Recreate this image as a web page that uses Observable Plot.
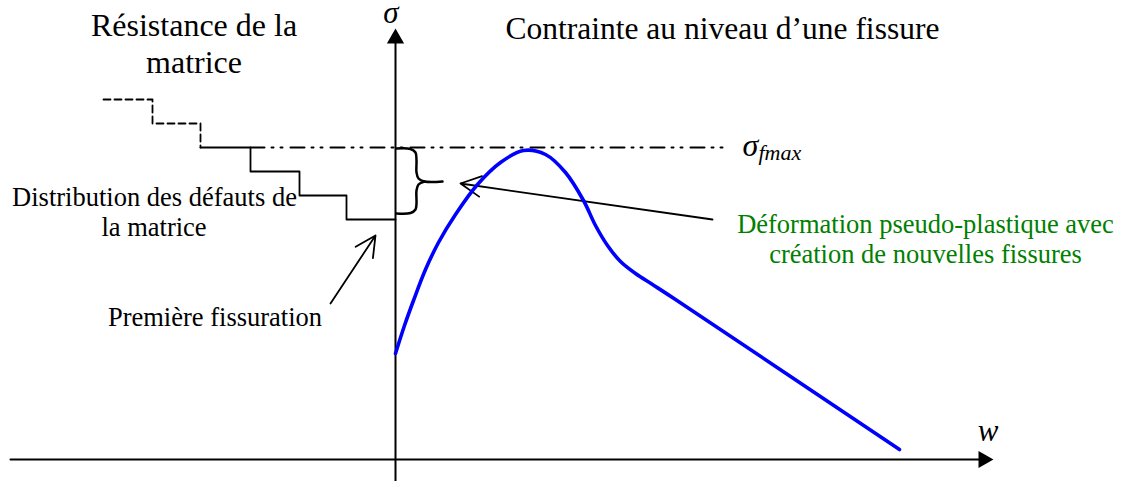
<!DOCTYPE html>
<html>
<head>
<meta charset="utf-8">
<script src="https://cdn.jsdelivr.net/npm/d3@7"></script>
<script src="https://cdn.jsdelivr.net/npm/@observablehq/plot@0.6"></script>
<style>
  html, body { margin: 0; padding: 0; background: #fff; }
  svg { display: block; }
</style>
</head>
<body>
<div id="chart"></div>
<script>
// Schematic: stress at a crack (σ) versus crack opening (w).
// Units: w to the right of the σ axis, σ above the w axis.

// Stress–opening response at the crack
const curveW     = [0, 9, 18, 30, 43, 60, 82, 105, 128, 150, 170, 188, 200, 212, 225, 240, 257, 280, 504];
const curveSigma = [106, 134, 159, 190, 217, 245, 275, 297, 309, 305, 287, 259, 234, 214, 198, 186, 175, 160, 10];

// Matrix strength levels (flaw distribution), drawn as steps
const flawW     = [-195, -145, -96, -49, 0];
const flawSigma = [312, 288, 264, 240, 240];
const upperW     = [-292, -243, -195];
const upperSigma = [360, 336, 312];

// Maximum stress level σ_fmax
const sigmaFmax = 312;
const fmaxFrom = -145, fmaxTo = 328;

// Brace marking the multiple-cracking range
const braceW     = [1, 15, 20, 21, 21, 23, 29, 47,   29, 23, 21, 21, 20, 15, 1];
const braceSigma = [311, 310.5, 307, 299, 287, 281, 278, 278,   278, 275, 269, 256, 250, 246.5, 246];
const braceSide  = ["a","a","a","a","a","a","a","a", "b","b","b","b","b","b","b"];

// Annotation arrows
const pointers = [
  {x1: 317, y1: 240, x2: 65, y2: 276},
  {x1: -65, y1: 156, x2: -20, y2: 224}
];

// Axis extent
const wMin = -385, wEnd = 585, sigmaMin = -22, sigmaEnd = 420;

// Text labels
const titleLabels = [
  {text: "Contrainte au niveau d’une fissure", x: 110, y: 421}
];
const matrixLabels = [
  {text: "Résistance de la", x: -201.5, y: 424},
  {text: "matrice", x: -201.5, y: 387}
];
const noteLabels = [
  {text: "Distribution des défauts de", x: -241, y: 254},
  {text: "la matrice", x: -241.5, y: 224},
  {text: "Première fissuration", x: -180.5, y: 134}
];
const greenLabels = [
  {text: "Déformation pseudo-plastique avec", x: 530, y: 227},
  {text: "création de nouvelles fissures", x: 530, y: 197}
];
const axisLabels = [
  {text: "σ", x: -4.5, y: 437},
  {text: "w", x: 592.5, y: 19}
];
const fmaxSymbol = {text: "σ", x: 347, y: 304};
const fmaxSub = {text: "fmax", x: 363, y: 300};

const curve = curveW.map((w, i) => ({w, s: curveSigma[i]}));
const flaw = flawW.map((w, i) => ({w, s: flawSigma[i]}));
const upper = upperW.map((w, i) => ({w, s: upperSigma[i]}));
const brace = braceW.map((w, i) => ({w, s: braceSigma[i], side: braceSide[i]}));

const serif = "'Liberation Serif', 'Times New Roman', serif";
const textOpts = {x: "x", y: "y", text: "text", lineAnchor: "bottom", fontFamily: serif};

const chart = Plot.plot({
  width: 1121,
  height: 481,
  margin: 0,
  x: {domain: [-395, 726], axis: null},
  y: {domain: [-22, 459], axis: null},
  marks: [
    // axes with filled arrowheads
    Plot.line([{w: 0, s: sigmaMin}, {w: 0, s: sigmaEnd}], {x: "w", y: "s", stroke: "black", strokeWidth: 2}),
    Plot.line([{w: wMin, s: 0}, {w: wEnd, s: 0}], {x: "w", y: "s", stroke: "black", strokeWidth: 2}),
    Plot.dot([{w: 0, s: 421}], {x: "w", y: "s", symbol: "triangle", r: 6.4, fill: "black", stroke: null}),
    Plot.dot([{w: 588, s: 0}], {x: "w", y: "s", symbol: "triangle", r: 6.4, fill: "black", stroke: null, rotate: 90}),

    // σ_fmax level
    Plot.line([{w: fmaxFrom, s: sigmaFmax}, {w: fmaxTo, s: sigmaFmax}], {
      x: "w", y: "s", stroke: "black", strokeWidth: 2, strokeDasharray: "14,7,2,7,2,8"
    }),

    // matrix strength steps
    Plot.line(upper, {x: "w", y: "s", curve: "step-after", stroke: "black", strokeWidth: 1.8, strokeDasharray: "7,4"}),
    Plot.line(flaw, {x: "w", y: "s", curve: "step-after", stroke: "black", strokeWidth: 1.8}),

    // brace
    Plot.line(brace, {x: "w", y: "s", z: "side", curve: "catmull-rom", stroke: "black", strokeWidth: 2.5}),

    // pointers
    Plot.arrow(pointers, {x1: "x1", y1: "y1", x2: "x2", y2: "y2", stroke: "black", strokeWidth: 1.8, headLength: 19, headAngle: 54}),

    // response curve
    Plot.line(curve, {x: "w", y: "s", curve: "catmull-rom", stroke: "#0000ff", strokeWidth: 3.6}),

    // labels
    Plot.text(titleLabels, {...textOpts, textAnchor: "start", fontSize: 31.5, fill: "black"}),
    Plot.text(matrixLabels, {...textOpts, textAnchor: "middle", fontSize: 32, fill: "black"}),
    Plot.text(noteLabels, {...textOpts, textAnchor: "middle", fontSize: 26.5, fill: "black"}),
    Plot.text(greenLabels, {...textOpts, textAnchor: "middle", fontSize: 26.5, fill: "#008000"}),
    Plot.text(axisLabels, {...textOpts, textAnchor: "middle", fontSize: 31, fontStyle: "italic", fill: "black"}),
    Plot.text([fmaxSymbol], {...textOpts, textAnchor: "start", fontSize: 32, fontStyle: "italic", fill: "black"}),
    Plot.text([fmaxSub], {...textOpts, textAnchor: "start", fontSize: 22, fontStyle: "italic", fill: "black"})
  ]
});

document.getElementById("chart").appendChild(chart);
</script>
</body>
</html>
